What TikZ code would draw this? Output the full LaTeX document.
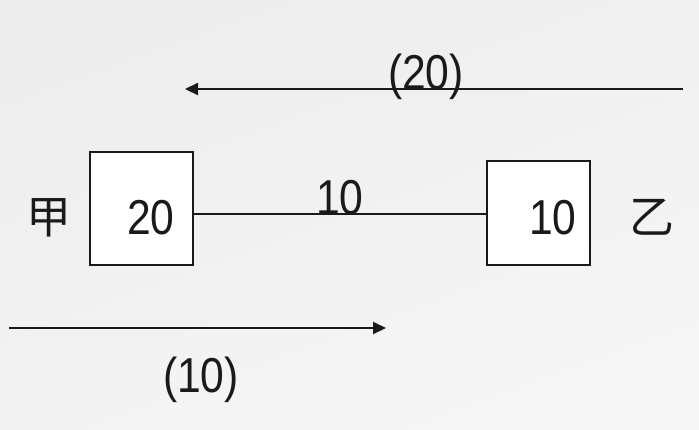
\documentclass[tikz,border=0pt]{standalone}
\usepackage{fontspec}
\setmainfont{Liberation Sans}
\newfontfamily\cjk{Noto Sans CJK SC}
\usetikzlibrary{arrows.meta}
\definecolor{bgA}{HTML}{EDEDED}
\definecolor{bgB}{HTML}{F6F6F6}
\definecolor{ink}{HTML}{1A1A1A}
\tikzset{
  boxst/.style={draw=ink, fill=white, line width=2.2pt, rectangle, inner sep=0pt},
  numst/.style={inner sep=0pt, anchor=base, text=ink, font=\fontsize{49}{50}\selectfont},
  cjkst/.style={inner sep=0pt, text=ink, font=\cjk\fontsize{45}{48}\selectfont},
  linest/.style={draw=ink, line width=2.2pt},
  arrst/.style={draw=ink, line width=2.2pt, -{Triangle[length=13pt,width=12pt]}}
}
\newcommand{\nrw}[1]{\scalebox{0.87}[1]{#1}}
\begin{document}
\begin{tikzpicture}[x=1pt,y=-1pt]
\useasboundingbox (0,0) rectangle (699,429);
\shade[top color=bgA, bottom color=bgB, shading angle=20] (0,0) rectangle (699,429);
% boxes
\node[boxst, minimum width=103pt, minimum height=113pt] (L) at (141.5,208.5) {};
\node[boxst, minimum width=103pt, minimum height=104pt] (R) at (538.5,213) {};
% box numbers
\node[numst] (Lnum) at (151,234) {\nrw{20}};
\node[numst] (Rnum) at (553,234) {\nrw{10}};
% side labels
\node[cjkst] (jia) at (49,218) {甲};
\node[cjkst] (yi) at (652,217) {乙};
% connector
\coordinate (ly) at (0,214);
\draw[linest] (L.east |- ly) -- (R.west |- ly);
\node[numst] (mid) at (340,214) {\nrw{10}};
% top arrow
\coordinate (a1) at (683,89);
\coordinate (a2) at (185,89);
\draw[arrst] (a1) -- (a2);
\node[numst] (top) at (426,89) {\nrw{(20)}};
% bottom arrow
\coordinate (b1) at (9,328);
\coordinate (b2) at (386,328);
\draw[arrst] (b1) -- (b2);
\node[numst] (bot) at (201,392) {\nrw{(10)}};
\end{tikzpicture}
\end{document}
